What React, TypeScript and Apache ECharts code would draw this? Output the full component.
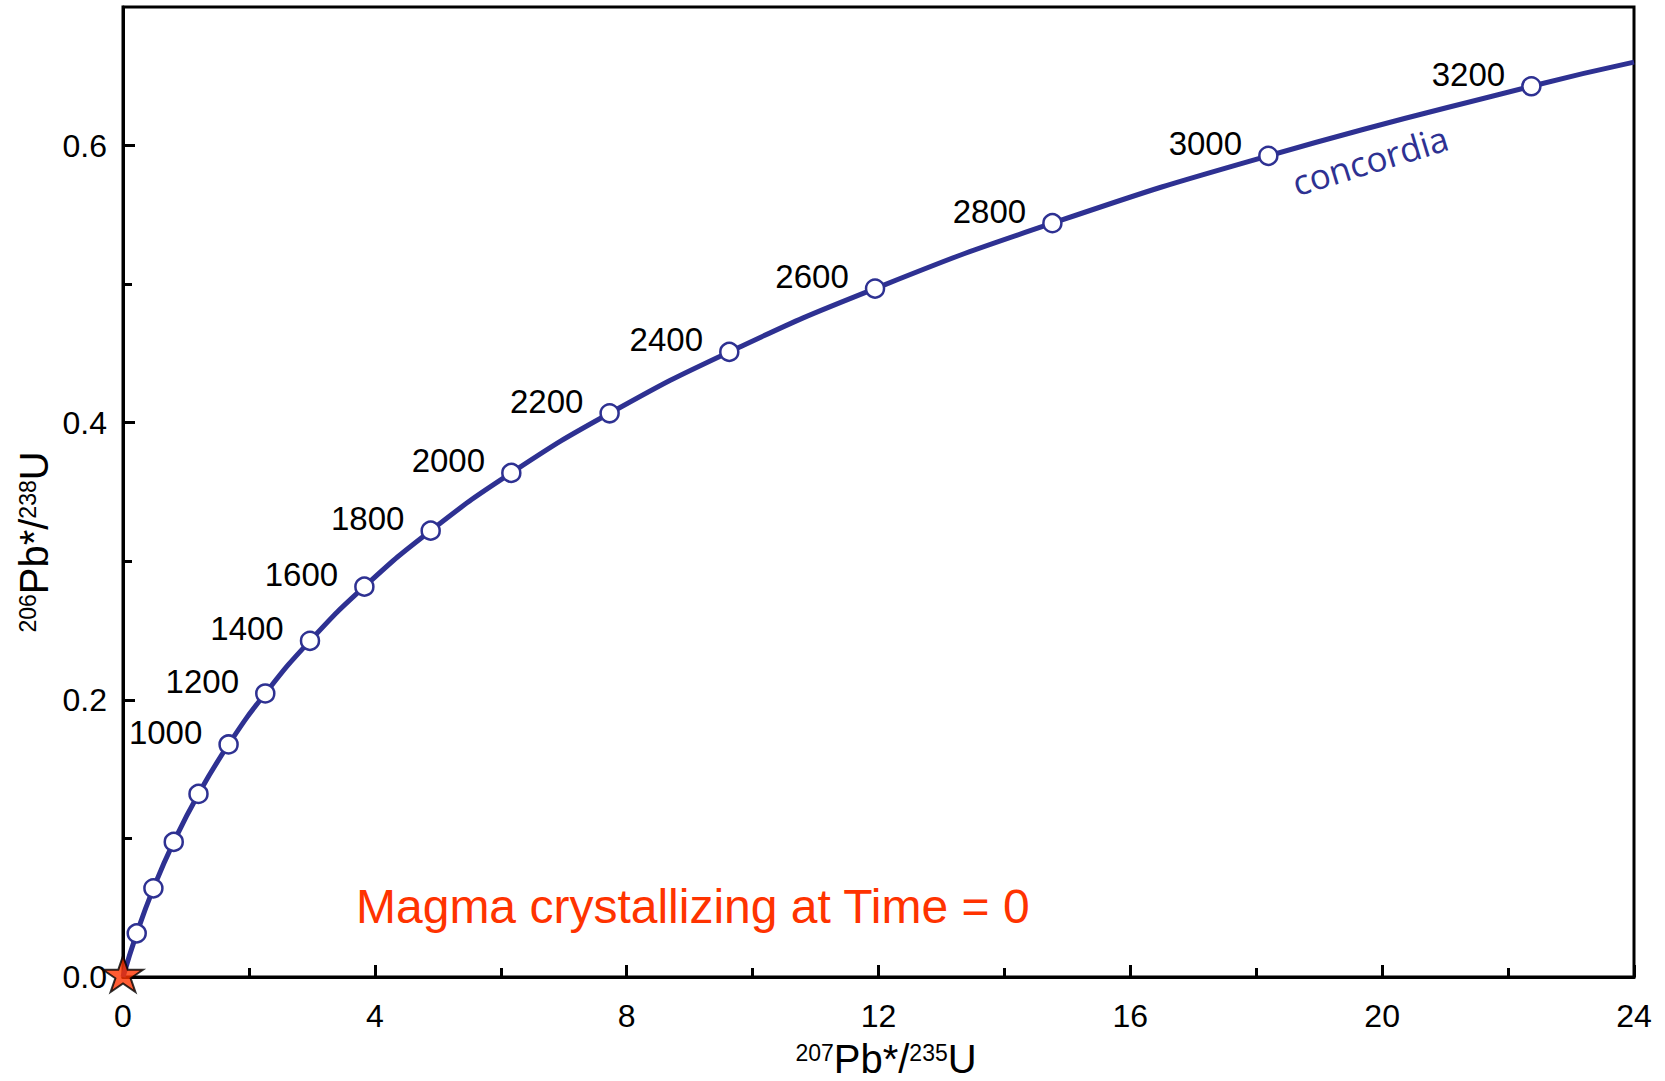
import React, { useEffect, useRef } from "react";
import * as echarts from "echarts";

// Concordia ages (Ma) and their isotope ratios
const ages = [0, 200, 400, 600, 800, 1000, 1200, 1400, 1600, 1800, 2000, 2200, 2400, 2600, 2800, 3000, 3200];
const pb207u235 = [0, 0.218, 0.483, 0.806, 1.199, 1.677, 2.26, 2.97, 3.834, 4.887, 6.168, 7.729, 9.63, 11.945, 14.762, 18.192, 22.37];
const pb206u238 = [0, 0.0315, 0.064, 0.0975, 0.1321, 0.1678, 0.2046, 0.2426, 0.2817, 0.3221, 0.3638, 0.4068, 0.4511, 0.4968, 0.544, 0.5926, 0.6428];
const curveEnd = [24, 0.6602];
const labeledFromAge = 1000;
const magmaPoint = [0, 0];

const xTickValues = [0, 4, 8, 12, 16, 20, 24];
const yLabelValues = [0, 0.2, 0.4, 0.6];
const yMajorTicks = [0.2, 0.4, 0.6];
const yMinorTicks = [0.1, 0.3, 0.5];

const NAVY = "#2e3192";
const RED = "#ff3300";
const FONT = '"Liberation Sans", Arial, Helvetica, sans-serif';

const STAR =
  "path://M0,-1 L0.2245,-0.309 L0.951,-0.309 L0.363,0.118 L0.588,0.809 L0,0.382 L-0.588,0.809 L-0.363,0.118 L-0.951,-0.309 L-0.2245,-0.309 Z";

export default function App() {
  const ref = useRef<HTMLDivElement>(null);

  useEffect(() => {
    document.body.style.margin = "0";
    if (!ref.current) return;
    const chart = echarts.init(ref.current, undefined, { renderer: "svg" });

    const lineData: any[] = ages.map((a, i) => {
      const item: any = { value: [pb207u235[i], pb206u238[i]] };
      if (i === 0) item.symbol = "none";
      return item;
    });
    lineData.push({ value: curveEnd, symbol: "none" });

    const titleRich = {
      s: { fontSize: 23, lineHeight: 36, fontFamily: FONT, verticalAlign: "top", fill: "#000" },
      b: { fontSize: 40, lineHeight: 36, fontFamily: FONT, fill: "#000" },
    };

    const option: any = {
      animation: false,
      backgroundColor: "#fff",
      grid: {
        left: 123,
        right: 31,
        top: 7,
        bottom: 104,
        show: true,
        borderColor: "#000",
        borderWidth: 3,
        outerBoundsMode: "none",
      },
      xAxis: {
        type: "value",
        min: xTickValues[0],
        max: xTickValues[xTickValues.length - 1],
        interval: 4,
        axisLine: { show: true, onZero: false, lineStyle: { color: "#000", width: 3 } },
        axisTick: { show: true, inside: true, length: 12, lineStyle: { color: "#000", width: 3 } },
        minorTick: { show: true, splitNumber: 2, length: 9, lineStyle: { color: "#000", width: 3 } },
        axisLabel: { color: "#000", fontSize: 32, fontFamily: FONT, margin: 23 },
        splitLine: { show: false },
        minorSplitLine: { show: false },
      },
      yAxis: [
        {
          type: "value",
          min: 0,
          max: 0.7,
          position: "left",
          axisLine: { show: true, onZero: false, lineStyle: { color: "#000", width: 3 } },
          axisTick: {
            show: true,
            inside: true,
            length: 12,
            customValues: yMajorTicks,
            lineStyle: { color: "#000", width: 3 },
          },
          axisLabel: {
            color: "#000",
            fontSize: 32,
            fontFamily: FONT,
            margin: 16,
            customValues: yLabelValues,
            formatter: (v: number) => v.toFixed(1),
          },
          splitLine: { show: false },
        },
        {
          type: "value",
          min: 0,
          max: 0.7,
          position: "left",
          axisLine: { show: false },
          axisTick: {
            show: true,
            inside: true,
            length: 9,
            customValues: yMinorTicks,
            lineStyle: { color: "#000", width: 3 },
          },
          axisLabel: { show: false },
          splitLine: { show: false },
        },
      ],
      series: [
        {
          type: "line",
          data: lineData,
          smooth: 0.5,
          showAllSymbol: true,
          symbol: "circle",
          symbolSize: 18,
          lineStyle: { color: NAVY, width: 5 },
          itemStyle: { color: "#fff", borderColor: NAVY, borderWidth: 2.5 },
          label: {
            show: true,
            position: "left",
            distance: 16,
            offset: [0, -12],
            color: "#000",
            fontSize: 33,
            fontFamily: FONT,
            formatter: (p: any) => {
              const a = ages[p.dataIndex];
              return a !== undefined && a >= labeledFromAge ? String(a) : "";
            },
          },
          z: 3,
        },
        {
          type: "scatter",
          data: [magmaPoint],
          symbol: STAR,
          symbolSize: [40, 38],
          symbolOffset: [0, -3],
          symbolKeepAspect: true,
          clip: false,
          itemStyle: { color: RED, borderColor: "#000", borderWidth: 2 },
          z: 5,
        },
      ],
      graphic: [
        {
          type: "text",
          x: 356,
          y: 906,
          style: {
            text: "Magma crystallizing at Time = 0",
            fill: RED,
            font: `48px ${FONT}`,
            textAlign: "left",
            textVerticalAlign: "middle",
          },
        },
        {
          type: "text",
          x: 1370,
          y: 160,
          rotation: (17 * Math.PI) / 180,
          style: {
            text: "concordia",
            fill: NAVY,
            font: '35px "Open Sans", "Noto Sans", sans-serif',
            textAlign: "center",
            textVerticalAlign: "middle",
          },
        },
        {
          type: "text",
          x: 886,
          y: 1059,
          style: {
            text: "{s|207}{b|Pb*/}{s|235}{b|U}",
            textAlign: "center",
            textVerticalAlign: "middle",
            fill: "#000",
            rich: titleRich,
          },
        },
        {
          type: "text",
          x: 34,
          y: 542,
          rotation: Math.PI / 2,
          style: {
            text: "{s|206}{b|Pb*/}{s|238}{b|U}",
            textAlign: "center",
            textVerticalAlign: "middle",
            fill: "#000",
            rich: titleRich,
          },
        },
      ],
    };

    chart.setOption(option);
    return () => chart.dispose();
  }, []);

  return <div ref={ref} style={{ width: 1665, height: 1081 }} />;
}
